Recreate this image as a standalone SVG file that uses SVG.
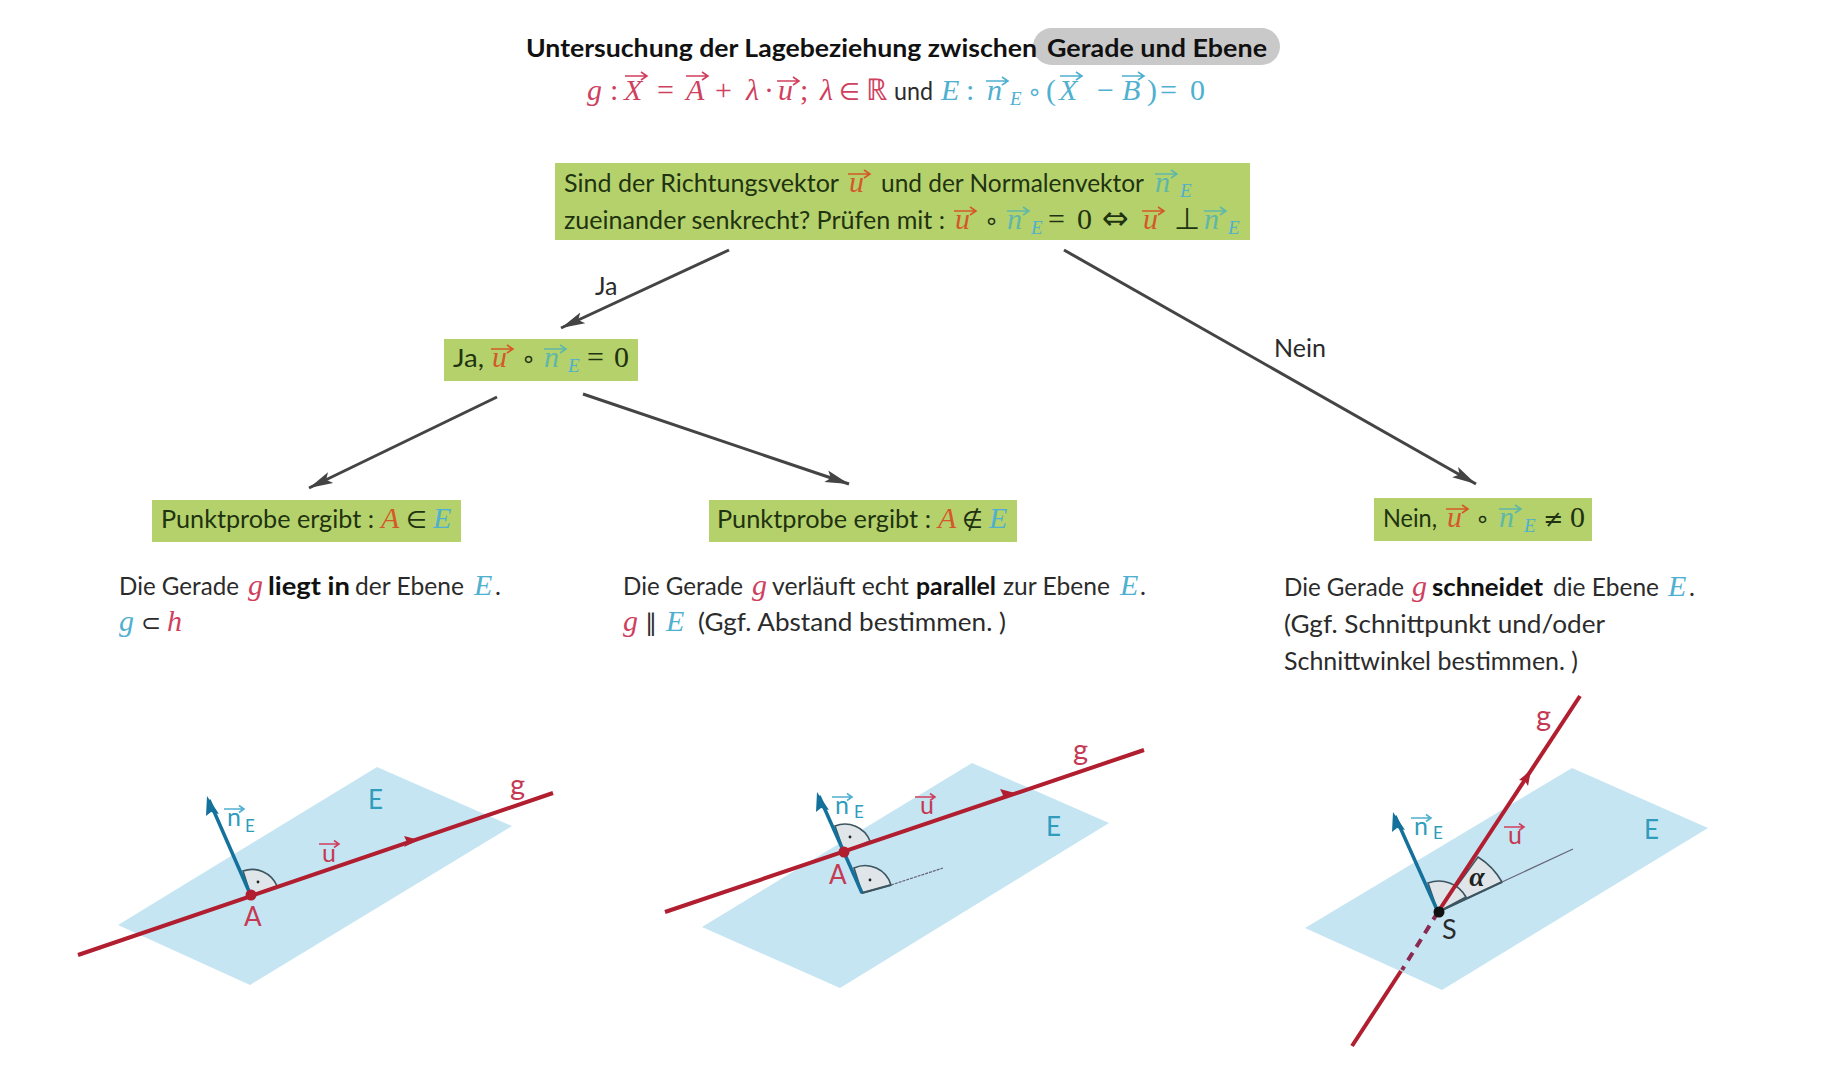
<svg xmlns="http://www.w3.org/2000/svg" width="1829" height="1080" viewBox="0 0 1829 1080">
<style>
text{font-family:"Lato","Liberation Sans",sans-serif;font-size:25px;fill:#2b2b2b;white-space:pre}
.dk{fill:#1f3310}
.b{font-weight:700;fill:#111}
.m{font-family:"Liberation Serif",serif;font-size:30px}
.y{font-family:"DejaVu Sans",sans-serif;font-size:24px}
.i{font-style:italic}
.s{font-size:19px}
.red{fill:#cf3f5e;color:#cf3f5e}
.tl{fill:#4fb0cf;color:#4fb0cf}
.or{fill:#d4582a;color:#d4582a}
.gt{fill:#5fb8a8;color:#5fb8a8}
.box{fill:#b5d16c}
.pl{fill:#c6e5f3}
.g{stroke:#b01e30;stroke-width:4;fill:none}
.n{stroke:#14719b;stroke-width:3.5;fill:none}
.arc{stroke:#3d5560;stroke-width:1.6;fill:#dfe5e8}
.thin{stroke:#667;stroke-width:1.2;fill:none}
.conn{stroke:#444;stroke-width:3;fill:none;marker-end:url(#ah)}
.lab{font-size:25px}
.gl{font-size:29px}
.red.lab{fill:#c43a55}.tl.lab{fill:#2f9cbc}
.v{fill:none;stroke:currentColor;stroke-width:1.6}
</style>
<defs>
<marker id="ah" markerWidth="26" markerHeight="16" refX="24" refY="8" orient="auto" markerUnits="userSpaceOnUse"><path d="M0 2L24 8L0 14L5 8Z" fill="#444"/></marker>
<path id="v" class="v" d="M0 0H22M16 -4L22 0L16 4"/>
<path id="vs" class="v" d="M0 0H20M15 -3.5L20 0L15 3.5"/>
</defs>

<g id="title">
<rect x="1033" y="28" width="247" height="37" rx="18.5" fill="#c9c9c9"/>
<text class="b" x="526" y="57" textLength="511" lengthAdjust="spacingAndGlyphs">Untersuchung der Lagebeziehung zwischen</text>
<text class="b" x="1047" y="57" textLength="220" lengthAdjust="spacingAndGlyphs">Gerade und Ebene</text>
<g class="red">
<text class="m i red" x="587" y="100">g</text><text class="m red" x="610" y="100">:</text>
<text class="m i red" x="624" y="100">X</text><use href="#v" x="625" y="76"/>
<text class="m red" x="657" y="100">=</text>
<text class="m i red" x="686" y="100">A</text><use href="#v" x="686" y="76"/>
<text class="m red" x="715" y="100">+</text><text class="m i red" x="746" y="100">λ</text><text class="m red" x="764" y="100">·</text>
<text class="m i red" x="778" y="100">u</text><use href="#v" x="777" y="81"/>
<text class="m red" x="800" y="100">;</text><text class="m i red" x="820" y="100">λ</text><text class="y red" x="839" y="100">∈</text><text class="m red" x="866" y="100">ℝ</text>
</g>
<text x="894" y="100" textLength="39" lengthAdjust="spacingAndGlyphs">und</text>
<g class="tl">
<text class="m i tl" x="941" y="100">E</text><text class="m tl" x="966" y="100">:</text>
<text class="m i tl" x="987" y="100">n</text><use href="#v" x="986" y="81"/><text class="m i s tl" x="1010" y="105" style="font-size:19px">E</text>
<text class="y tl" x="1027" y="100">∘</text><text class="m tl" x="1046" y="100">(</text>
<text class="m i tl" x="1059" y="100">X</text><use href="#v" x="1060" y="76"/>
<text class="m tl" x="1097" y="100">−</text>
<text class="m i tl" x="1122" y="100">B</text><use href="#v" x="1122" y="76"/>
<text class="m tl" x="1147" y="100">)</text><text class="m tl" x="1160" y="100">=</text><text class="m tl" x="1190" y="100">0</text>
</g>
</g>

<g id="connectors">
<path class="conn" d="M729 250L561 328"/>
<path class="conn" d="M1064 250L1476 484"/>
<path class="conn" d="M497 397L309 488"/>
<path class="conn" d="M583 394L849 484"/>
<text x="595" y="295">Ja</text>
<text x="1274" y="357">Nein</text>
</g>

<g id="node-frage">
<rect class="box" x="555" y="163" width="695" height="77"/>
<text class="dk" x="564" y="192" textLength="275" lengthAdjust="spacingAndGlyphs">Sind der Richtungsvektor</text>
<g class="or"><text class="m i or" x="849" y="192">u</text><use href="#v" x="848" y="174"/></g>
<text class="dk" x="881" y="192" textLength="263" lengthAdjust="spacingAndGlyphs">und der Normalenvektor</text>
<g class="gt"><text class="m i gt" x="1155" y="192">n</text><use href="#v" x="1155" y="174"/></g><text class="m i s tl" x="1180" y="197" style="font-size:19px">E</text>
<text class="dk" x="564" y="229" textLength="381" lengthAdjust="spacingAndGlyphs">zueinander senkrecht? Prüfen mit :</text>
<g class="or"><text class="m i or" x="955" y="229">u</text><use href="#v" x="954" y="211"/></g>
<text class="y dk" x="984" y="229">∘</text>
<g class="gt"><text class="m i gt" x="1007" y="229">n</text><use href="#v" x="1007" y="211"/></g><text class="m i s tl" x="1031" y="234" style="font-size:19px">E</text>
<text class="m dk" x="1048" y="229">=</text><text class="m dk" x="1077" y="229">0</text>
<text class="y dk" x="1102" y="229" style="font-size:32px">⇔</text>
<g class="or"><text class="m i or" x="1143" y="229">u</text><use href="#v" x="1142" y="211"/></g>
<text class="m dk" x="1174" y="229">⊥</text>
<g class="gt"><text class="m i gt" x="1204" y="229">n</text><use href="#v" x="1204" y="211"/></g><text class="m i s tl" x="1228" y="234" style="font-size:19px">E</text>
</g>

<g id="node-ja">
<rect class="box" x="444" y="339" width="194" height="42"/>
<text class="dk" x="453" y="367" textLength="31" lengthAdjust="spacingAndGlyphs">Ja,</text>
<g class="or"><text class="m i or" x="492" y="367">u</text><use href="#v" x="491" y="349"/></g>
<text class="y dk" x="521" y="367">∘</text>
<g class="gt"><text class="m i gt" x="544" y="367">n</text><use href="#v" x="544" y="349"/></g><text class="m i s tl" x="568" y="372" style="font-size:19px">E</text>
<text class="m dk" x="587" y="367">=</text><text class="m dk" x="614" y="367">0</text>
</g>

<g id="node-punkt-in">
<rect class="box" x="152" y="500" width="309" height="42"/>
<text class="dk" x="161" y="528" textLength="213" lengthAdjust="spacingAndGlyphs">Punktprobe ergibt :</text>
<text class="m i or" x="381" y="528">A</text><text class="y dk" x="406" y="528">∈</text><text class="m i tl" x="433" y="528">E</text>
</g>

<g id="node-punkt-notin">
<rect class="box" x="709" y="500" width="308" height="42"/>
<text class="dk" x="717" y="528" textLength="214" lengthAdjust="spacingAndGlyphs">Punktprobe ergibt :</text>
<text class="m i or" x="938" y="528">A</text><text class="y dk" x="962" y="528">∉</text><text class="m i tl" x="989" y="528">E</text>
</g>

<g id="node-nein">
<rect class="box" x="1374" y="498" width="218" height="43"/>
<text class="dk" x="1383" y="527" textLength="54" lengthAdjust="spacingAndGlyphs">Nein,</text>
<g class="or"><text class="m i or" x="1447" y="527">u</text><use href="#v" x="1446" y="509"/></g>
<text class="y dk" x="1475" y="527">∘</text>
<g class="gt"><text class="m i gt" x="1499" y="527">n</text><use href="#v" x="1499" y="509"/></g><text class="m i s tl" x="1524" y="532" style="font-size:19px">E</text>
<text class="y dk" x="1543" y="527">≠</text><text class="m dk" x="1570" y="527">0</text>
</g>

<g id="text-in">
<text x="119" y="595" textLength="120" lengthAdjust="spacingAndGlyphs">Die Gerade</text>
<text class="m i red" x="248" y="595">g</text>
<text class="b" x="268" y="595" textLength="82" lengthAdjust="spacingAndGlyphs">liegt in</text>
<text x="355" y="595" textLength="109" lengthAdjust="spacingAndGlyphs">der Ebene</text>
<text class="m i tl" x="474" y="595">E</text><text x="495" y="595">.</text>
<text class="m i tl" x="119" y="631">g</text><text class="y" x="141" y="631">⊂</text><text class="m i red" x="167" y="631">h</text>
</g>

<g id="text-parallel">
<text x="623" y="595" textLength="120" lengthAdjust="spacingAndGlyphs">Die Gerade</text>
<text class="m i red" x="752" y="595">g</text>
<text x="772" y="595" textLength="137" lengthAdjust="spacingAndGlyphs">verläuft echt</text>
<text class="b" x="916" y="595" textLength="80" lengthAdjust="spacingAndGlyphs">parallel</text>
<text x="1003" y="595" textLength="107" lengthAdjust="spacingAndGlyphs">zur Ebene</text>
<text class="m i tl" x="1120" y="595">E</text><text x="1140" y="595">.</text>
<text class="m i red" x="623" y="631">g</text><text class="y" x="645" y="631">∥</text><text class="m i tl" x="666" y="631">E</text>
<text x="698" y="631" textLength="308" lengthAdjust="spacingAndGlyphs">(Ggf. Abstand bestimmen. )</text>
</g>

<g id="text-schneidet">
<text x="1284" y="596" textLength="120" lengthAdjust="spacingAndGlyphs">Die Gerade</text>
<text class="m i red" x="1412" y="596">g</text>
<text class="b" x="1432" y="596" textLength="111" lengthAdjust="spacingAndGlyphs">schneidet</text>
<text x="1553" y="596" textLength="106" lengthAdjust="spacingAndGlyphs">die Ebene</text>
<text class="m i tl" x="1668" y="596">E</text><text x="1689" y="596">.</text>
<text x="1284" y="633" textLength="321" lengthAdjust="spacingAndGlyphs">(Ggf. Schnittpunkt und/oder</text>
<text x="1284" y="670" textLength="294" lengthAdjust="spacingAndGlyphs">Schnittwinkel bestimmen. )</text>
</g>

<g id="figure-in">
<polygon class="pl" points="118,925 377,767 512,826 250,985"/>
<path class="arc" d="M251 896L243 871A27 27 0 0 1 277 886Z"/>
<circle cx="258" cy="882" r="1.4" fill="#222"/>
<path class="n" d="M251 896L209 800"/>
<path fill="#14719b" d="M207 796L219 814L211 812L206 816Z"/>
<path class="g" d="M78 955L553 793"/>
<path fill="#b01e30" d="M419 840L404 847L407 842L404 836Z"/>
<circle cx="251" cy="895" r="5.5" fill="#b01e30"/>
<text class="lab gl red" x="510" y="795">g</text>
<text class="lab tl" x="368" y="809" style="font-size:26px">E</text>
<text class="lab red" x="244" y="926" style="font-size:26px">A</text>
<g class="red"><text class="lab red" x="322" y="862">u</text><use href="#vs" x="319" y="844"/></g>
<g class="tl"><text class="lab tl" x="227" y="826">n</text><use href="#vs" x="224" y="809"/><text class="lab tl" x="245" y="832" style="font-size:17px">E</text></g>
</g>

<g id="figure-parallel">
<polygon class="pl" points="702,927 972,763 1109,823 840,988"/>
<path class="arc" d="M844 852L835 826A27 27 0 0 1 870 841Z"/>
<path class="arc" d="M862 893L854 868A27 27 0 0 1 891 885Z"/>
<circle cx="850" cy="837" r="1.4" fill="#222"/><circle cx="870" cy="880" r="1.4" fill="#222"/>
<path class="thin" d="M891 885L943 868" stroke-dasharray="3 1"/>
<path class="n" d="M862 893L819 796"/>
<path fill="#14719b" d="M817 792L829 810L821 808L816 812Z"/>
<path class="n" style="stroke-width:2.2;stroke:#3d5560" d="M862 893L891 885"/>
<path class="g" d="M665 912L1144 750"/>
<path fill="#b01e30" d="M1015 793L1000 800L1003 795L1000 789Z"/>
<circle cx="844" cy="852" r="5.5" fill="#b01e30"/>
<text class="lab gl red" x="1073" y="760">g</text>
<text class="lab tl" x="1046" y="836" style="font-size:26px">E</text>
<text class="lab red" x="829" y="884" style="font-size:26px">A</text>
<g class="red"><text class="lab red" x="920" y="814">u</text><use href="#vs" x="915" y="797"/></g>
<g class="tl"><text class="lab tl" x="835" y="814">n</text><use href="#vs" x="832" y="797"/><text class="lab tl" x="854" y="818" style="font-size:17px">E</text></g>
</g>

<g id="figure-schneidet">
<polygon class="pl" points="1305,928 1572,768 1708,828 1442,990"/>
<path class="arc" d="M1438 912L1502 882A70 70 0 0 0 1478 857Z"/>
<path class="arc" d="M1438 912L1428 883A31 31 0 0 1 1466 897Z"/>
<path class="thin" d="M1502 882L1573 849"/>
<path class="n" style="stroke-width:2;stroke:#3d5560" d="M1438 912L1502 882"/>
<path class="n" d="M1438 912L1395 816"/>
<path fill="#14719b" d="M1393 812L1405 830L1397 828L1392 832Z"/>
<path class="g" d="M1438 912L1580 696"/>
<path class="g" d="M1438 912L1402 970" stroke-dasharray="9 7" style="stroke:#8b2a50"/>
<path class="g" d="M1401 971L1352 1046"/>
<path fill="#b01e30" d="M1531 770L1528 786L1525 781L1519 780Z"/>
<circle cx="1439" cy="912" r="5.5" fill="#111"/>
<text x="1477" y="886" style="font-family:'Liberation Serif',serif;font-size:28px;font-style:italic;font-weight:700;fill:#222" text-anchor="middle">α</text>
<text class="lab gl red" x="1536" y="726">g</text>
<text class="lab tl" x="1644" y="839" style="font-size:26px">E</text>
<text class="lab" x="1442" y="939" style="font-size:27px">S</text>
<g class="red"><text class="lab red" x="1508" y="844">u</text><use href="#vs" x="1504" y="827"/></g>
<g class="tl"><text class="lab tl" x="1414" y="835">n</text><use href="#vs" x="1411" y="818"/><text class="lab tl" x="1433" y="839" style="font-size:17px">E</text></g>
</g>
</svg>
